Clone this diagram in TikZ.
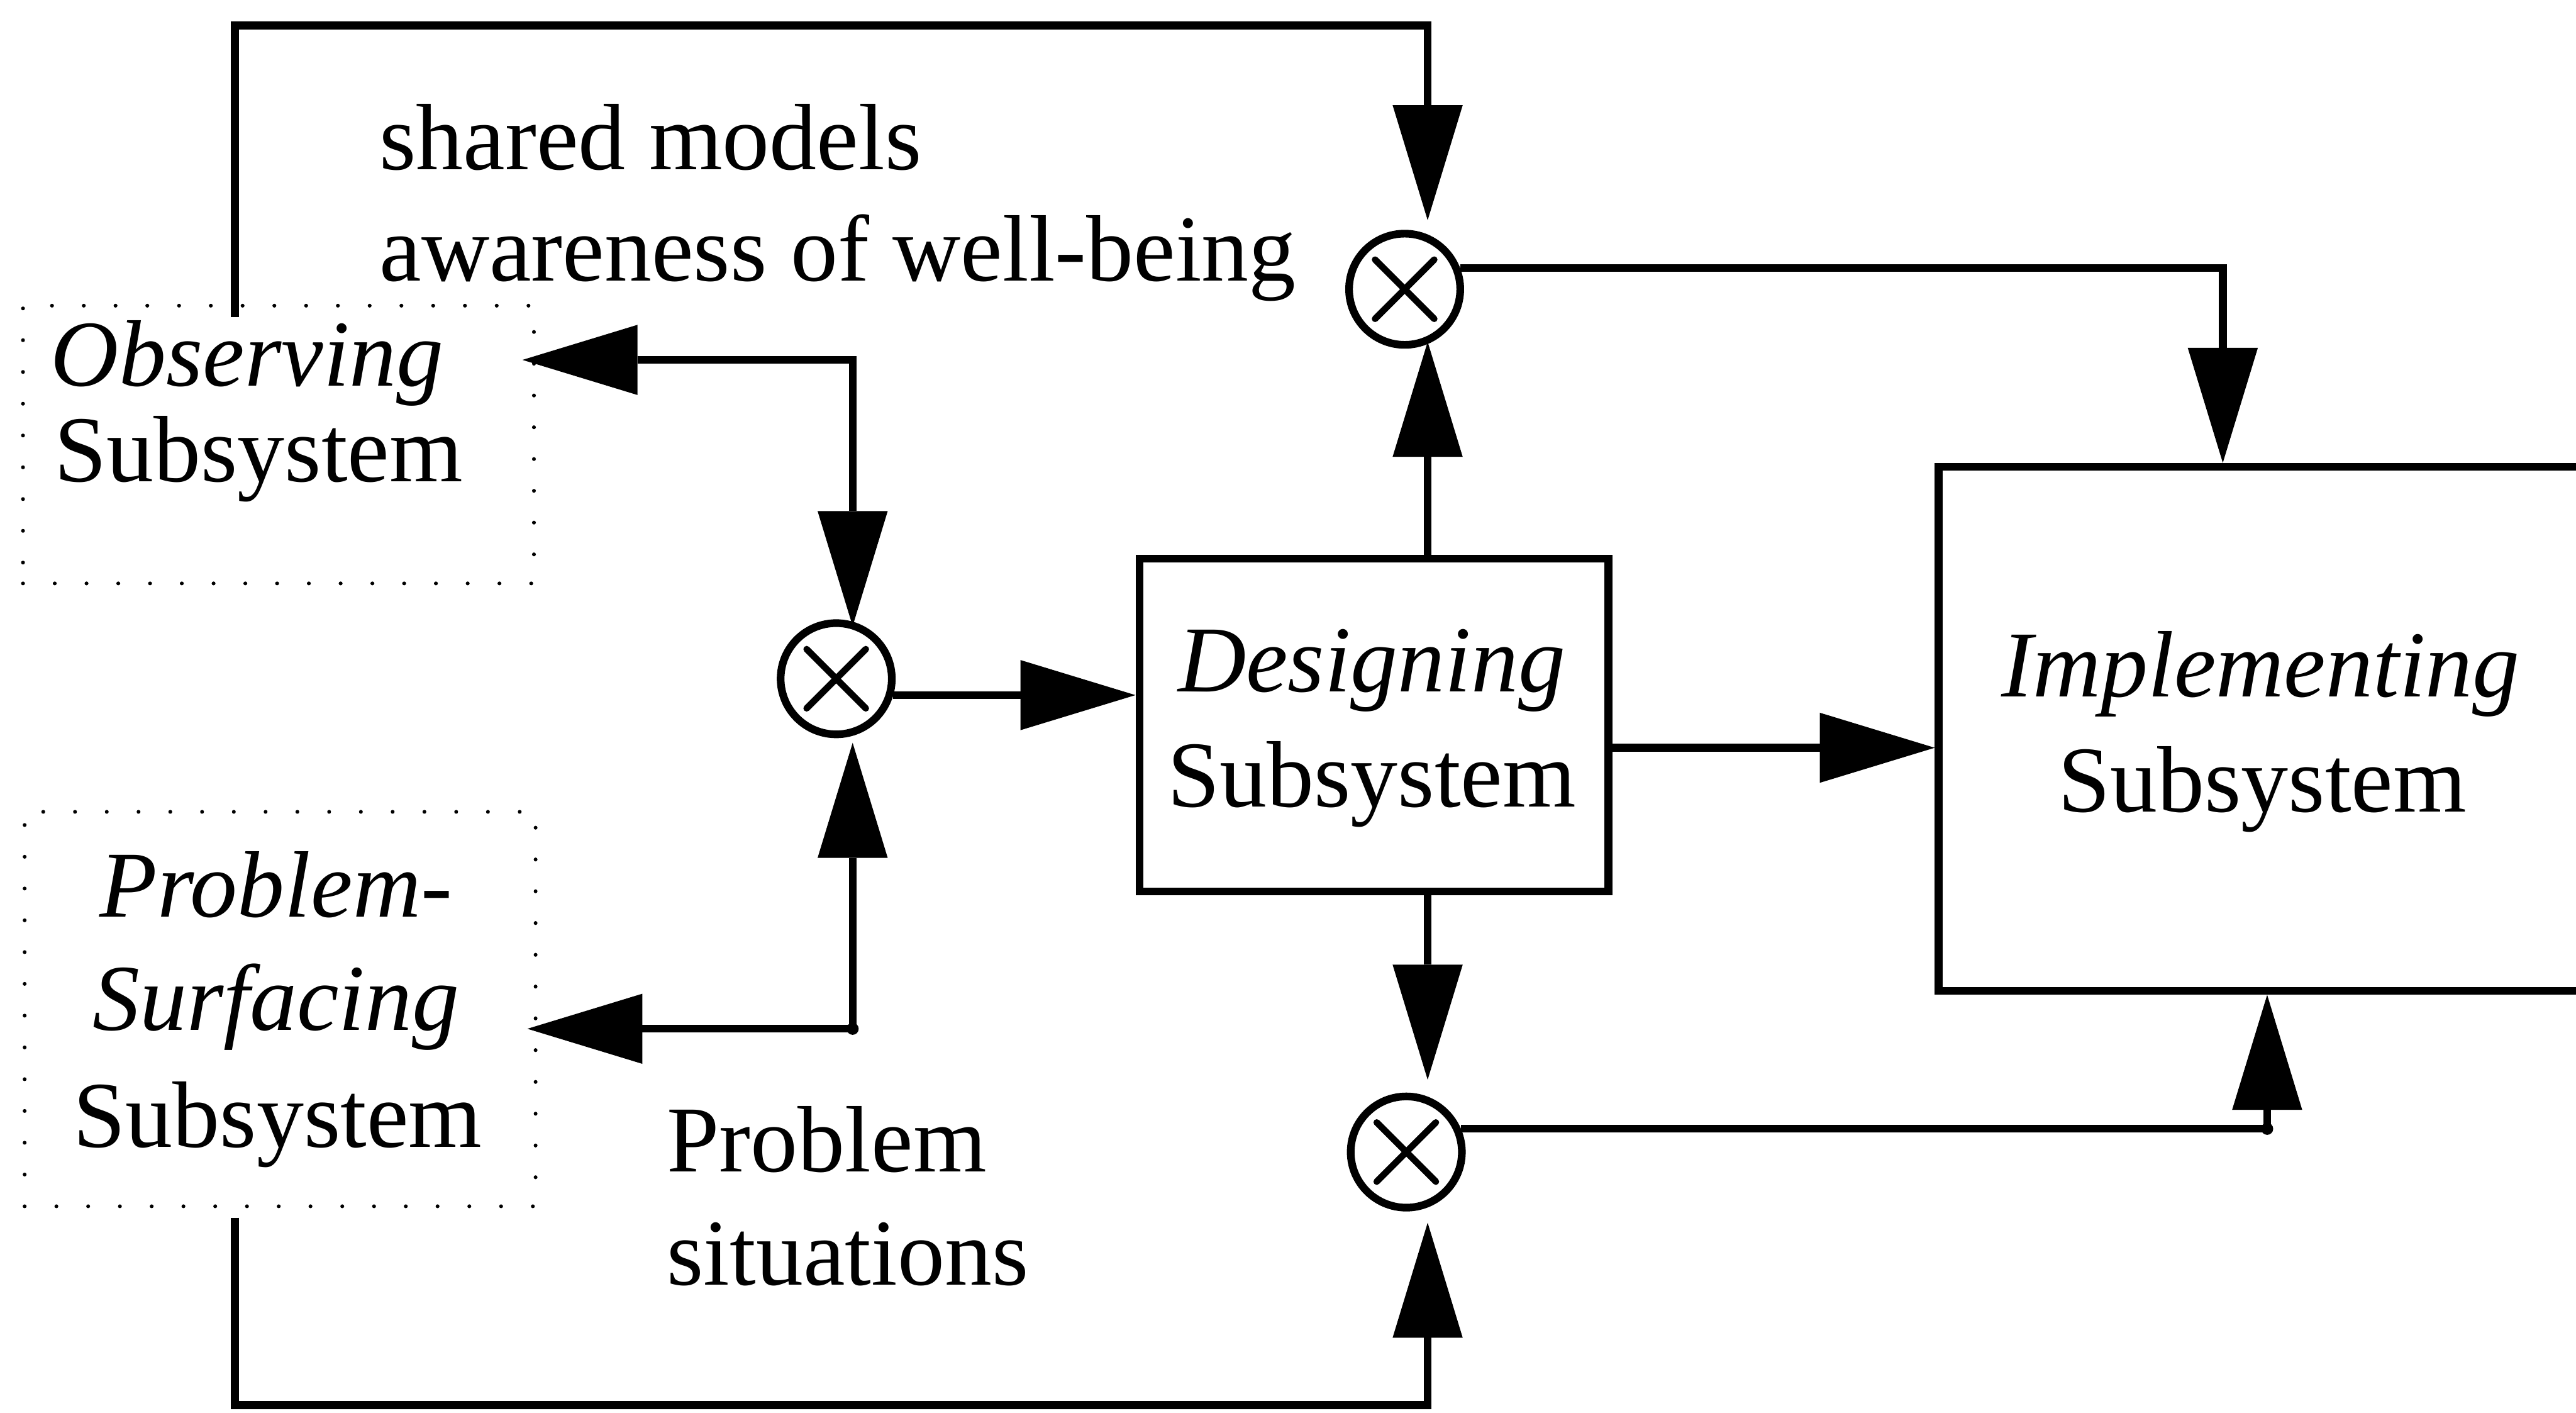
\documentclass[tikz,border=0pt]{standalone}
\usepackage{fontspec}
\setmainfont{Liberation Serif}
\usetikzlibrary{arrows.meta}

\tikzset{
  bigtip/.tip={Triangle[length=2.1cm, width=1.28cm, line width=0pt]},
  wire/.style={line width=0.14cm, line join=miter},
  arr/.style={wire, -bigtip},
  darr/.style={wire, bigtip-bigtip},
  sbox/.style={draw, line width=0.14cm, inner sep=0},
  dotbox/.style={draw, line width=0.07cm, line cap=round, dash pattern=on 0pt off 0.58cm, inner sep=0},
  mult/.style={circle, draw, line width=0.14cm, minimum size=2.03cm, inner sep=0},
  xmark/.style={line width=0.12cm, line cap=round},
  lbl/.style={inner sep=0, outer sep=0},
  jdot/.style={fill=black},
}

\begin{document}
\begin{tikzpicture}[x=0.03cm, y=-0.03cm, font=\fontsize{49}{59}\selectfont]
\clip (0,0) rectangle (1568,859.5);

% subsystem boxes
\node[dotbox, minimum width=9.33cm, minimum height=5.07cm] (obs) at (169.5,270.5) {};
\node[dotbox, minimum width=9.33cm, minimum height=7.2cm] (prob) at (170.5,614) {};
\node[sbox, minimum width=8.565cm, minimum height=6.075cm] (design) at (836.25,441.25) {};
\node[sbox, minimum width=13.8cm, minimum height=9.57cm] (impl) at (1410,443.5) {};

% box texts
\node[lbl, anchor=base west] (obsA) at (31,235) {\itshape Observing};
\node[lbl, anchor=base west] (obsB) at (33,293) {Subsystem};
\node[lbl, anchor=base] (probA) at (168,558) {\itshape Problem-};
\node[lbl, anchor=base] (probB) at (168,627) {\itshape Surfacing};
\node[lbl, anchor=base] (probC) at (169,698) {Subsystem};
\node[lbl, anchor=base] (desA) at (835,421) {\itshape Designing};
\node[lbl, anchor=base] (desB) at (835,491) {Subsystem};
\node[lbl, anchor=base] (impA) at (1376,424) {\itshape Implementing};
\node[lbl, anchor=base] (impB) at (1377,494) {Subsystem};

% flow labels
\node[lbl, anchor=base west] (shared) at (231,103) {shared models};
\node[lbl, anchor=base west] (aware) at (231,171) {awareness of well-being};
\node[lbl, anchor=base west] (probS) at (406,713) {Problem};
\node[lbl, anchor=base west] (situ) at (406,782) {situations};

% multiplier junctions
\node[mult] (jl) at (509,413) {};
\node[mult] (jt) at (855,176) {};
\node[mult] (jb) at (856,701) {};
\foreach \j in {jl,jt,jb}{
  \draw[xmark] ([shift={(-18,-18)}]\j.center) -- ([shift={(18,18)}]\j.center);
  \draw[xmark] ([shift={(-18,18)}]\j.center) -- ([shift={(18,-18)}]\j.center);
}

% routing points
\coordinate (obsOut) at (143,193);
\coordinate (topL) at (143,15.5);
\coordinate (topR) at (869,15.5);
\coordinate (jtIn) at (869,134);
\coordinate (probOut) at (143,741);
\coordinate (botL) at (143,855);
\coordinate (botR) at (869,855);
\coordinate (jbUp) at (869,744);
\coordinate (obsIn) at (318,219);
\coordinate (obsFork) at (519,219);
\coordinate (jlTop) at (519,381);
\coordinate (probIn) at (321,626);
\coordinate (probFork) at (519,626);
\coordinate (jlBot) at (519,452);
\coordinate (jtUp) at (869,208);
\coordinate (jbDown) at (869,657);
\coordinate (rowMid) at (0,455);
\coordinate (jtTurn) at (1353,0);
\coordinate (jbTurn) at (1380,0);

% connectors
\draw[arr] (obsOut) -- (topL) -- (topR) -- (jtIn);
\draw[arr] (probOut) -- (botL) -- (botR) -- (jbUp);
\draw[darr] (obsIn) -- (obsFork) -- (jlTop);
\draw[darr] (probIn) -- (probFork) -- (jlBot);
\draw[arr] (jl.-16) -- (design.west |- jl.-16);
\draw[arr] (design.north -| jtUp) -- (jtUp);
\draw[arr] (design.south -| jbDown) -- (jbDown);
\draw[arr] (design.east |- rowMid) -- (impl.west |- rowMid);
\draw[arr] (jt.21) -- (jt.21 -| jtTurn) -- (impl.north -| jtTurn);
\draw[arr] (jb.23) -- (jb.23 -| jbTurn) -- (impl.south -| jbTurn);
\fill[jdot] (probFork) circle (0.11cm);
\fill[jdot] (jb.23 -| jbTurn) circle (0.11cm);
\end{tikzpicture}
\end{document}
